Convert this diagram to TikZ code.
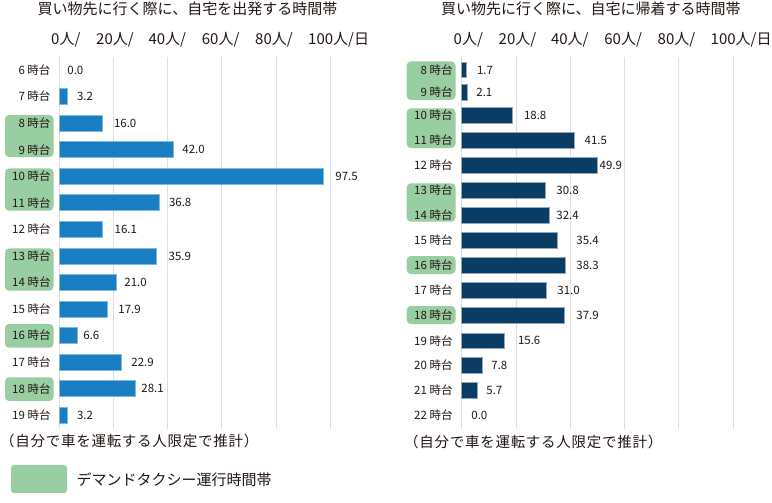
\documentclass[tikz,border=0pt]{standalone}
\usepackage{fontspec}
\setmainfont{Noto Sans CJK JP}
\newfontfamily\spfont[LetterSpace=5]{Noto Sans CJK JP}
\definecolor{txt}{HTML}{231815}
\definecolor{grn}{HTML}{99CDA2}
\definecolor{bblue}{HTML}{1A7FC2}
\definecolor{bnavy}{HTML}{0A3D63}
\definecolor{gridc}{HTML}{DEDEDE}
\tikzset{
  rowlab/.style={anchor=east, font=\fontsize{11.5}{13}\selectfont, text=txt, inner sep=0pt},
  vallab/.style={anchor=west, font=\fontsize{11.5}{13}\selectfont, text=txt, inner sep=0pt},
  axlab/.style={anchor=west, font=\fontsize{15}{17}\selectfont, text=txt, inner sep=0pt},
  ttl/.style={font=\fontsize{15}{17}\selectfont, text=txt, inner sep=0pt},
  foot/.style={anchor=west, font=\fontsize{14.5}{17}\spfont, text=txt, inner sep=0pt},
  greenbox/.style={fill=grn, rounded corners=4pt},
  barL/.style={fill=bblue, draw=bblue!55!white, line width=0.8pt},
  barR/.style={fill=bnavy, draw=bnavy!45!white, line width=0.8pt},
  gridline/.style={draw=gridc, line width=1pt}
}
\begin{document}
\begin{tikzpicture}[x=1pt,y=-1pt]
\useasboundingbox[fill=white] (0,0) rectangle (772,503);

% ---------- titles ----------
\node[ttl] (t1) at (187.5,8.5) {買い物先に行く際に、自宅を出発する時間帯};
\node[ttl] (t2) at (590.8,8.5) {買い物先に行く際に、自宅に帰着する時間帯};

% ---------- axis labels ----------
\foreach \x/\t [count=\k] in {51/{0人/},96/{20人/},148.3/{40人/},201.7/{60人/},255/{80人/},308/{100人/日}}{
  \node[axlab] (axL\k) at (\x,40) {\t};
  \node[axlab] (axR\k) at (\x+402.5,40) {\t};
}

% ---------- grid lines ----------
\foreach \k in {0,...,5}{
  \draw[gridline] ({59+54.3*\k},57) -- ({59+54.3*\k},429);
  \draw[gridline] ({461.7+54.3*\k},57) -- ({461.7+54.3*\k},429);
}

% ---------- green boxes (left) ----------
\fill[greenbox] (5,115) rectangle (53.5,157);
\fill[greenbox] (5,168.3) rectangle (53.5,210.7);
\fill[greenbox] (5,248.3) rectangle (53.5,290.7);
\fill[greenbox] (5,324) rectangle (53.5,347.7);
\fill[greenbox] (5,377.3) rectangle (53.5,401);
% ---------- green boxes (right) ----------
\fill[greenbox] (406.7,61.5) rectangle (455.5,100);
\fill[greenbox] (406.7,108.3) rectangle (455.5,148);
\fill[greenbox] (406.7,183.3) rectangle (455.5,221.7);
\fill[greenbox] (406.7,256) rectangle (455.5,274);
\fill[greenbox] (406.7,306) rectangle (455.5,324);

% ---------- left chart ----------
\foreach \h/\v/\lx [count=\i from 0] in {6/0.0/67.7,7/3.2/77.3,8/16.0/114.3,9/42.0/182.7,10/97.5/335.7,11/36.8/169.3,12/16.1/115,13/35.9/169,14/21.0/124.7,15/17.9/118.7,16/6.6/83.7,17/22.9/131.7,18/28.1/141.7,19/3.2/77.3}{
  \pgfmathsetmacro\yy{70+26.56*\i}
  \ifdim\v pt>0pt
    \draw[barL] (59,{\yy-8}) rectangle ({59+2.715*\v},{\yy+8});
  \fi
  \node[rowlab] (lrL\h) at (50.7,\yy) {\h\ 時台};
  \node[vallab] (vL\h) at (\lx-0.5,\yy) {\v};
}

% ---------- right chart ----------
\foreach \h/\v/\lx/\yy in {8/1.7/477.3/70,9/2.1/476.7/92.5,10/18.8/524.3/115.5,11/41.5/585/140.5,12/49.9/600/165.3,13/30.8/556.7/190.5,14/32.4/556.7/215.5,15/35.4/576.7/240.5,16/38.3/576.7/265.5,17/31.0/557.7/290.5,18/37.9/576.7/315.5,19/15.6/518.3/340.7,20/7.8/491.7/365.5,21/5.7/486.7/390.5,22/0.0/471.7/415.5}{
  \ifdim\v pt>0pt
    \draw[barR] (461.7,{\yy-7.8}) rectangle ({461.7+2.717*\v},{\yy+7.8});
  \fi
  \node[rowlab] (lrR\h) at (452.7,\yy) {\h\ 時台};
  \node[vallab] (vR\h) at (\lx-0.5,\yy) {\v};
}

% ---------- footnotes ----------
\node[foot] (f1) at (0,441) {（自分で車を運転する人限定で推計）};
\node[foot] (f2) at (404,441.7) {（自分で車を運転する人限定で推計）};

% ---------- legend ----------
\fill[greenbox, rounded corners=3pt] (11,465) rectangle (67,493);
\node[anchor=west, font=\fontsize{15}{17}\selectfont, text=txt, inner sep=0pt] (leg) at (76.5,480) {デマンドタクシー運行時間帯};
\end{tikzpicture}
\end{document}
